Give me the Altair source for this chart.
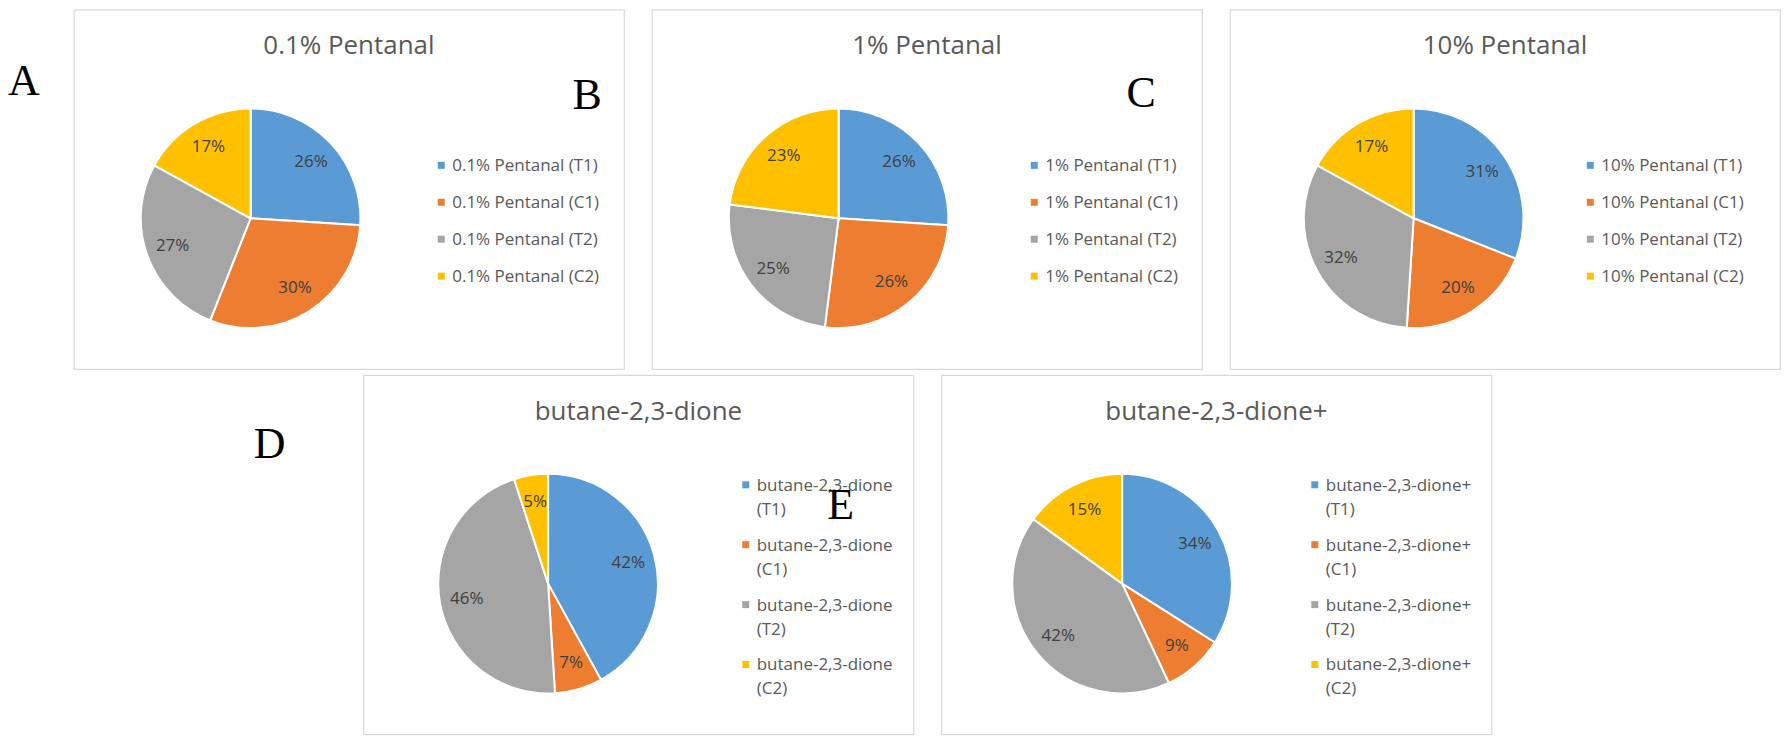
import altair as alt
import pandas as pd

# ---------------- data ----------------
panel_titles = ["0.1% Pentanal", "1% Pentanal", "10% Pentanal",
                "butane-2,3-dione", "butane-2,3-dione+"]
series_suffix = ["(T1)", "(C1)", "(T2)", "(C2)"]
values_a = [26, 30, 27, 17]
values_b = [26, 26, 25, 23]
values_c = [31, 20, 32, 17]
values_d = [42, 7, 46, 5]
values_e = [34, 9, 42, 15]
panel_letters = ["A", "B", "C", "D", "E"]
slice_colors = ["#5B9BD5", "#ED7D31", "#A5A5A5", "#FFC000"]

# ---------------- style / layout ----------------
FONT = "Open Sans"
LETTER_FONT = "Liberation Serif"
TXT = "#595959"
PANEL_W = 551
PANEL_H = 360
R = 110


def panel(title, values, lay, letter=None, letter_pos=None):
    names = [f"{title} {s}" for s in series_suffix]
    sep = "|" if lay["wrap"] else " "
    labels = [f"{title}{sep}{s}" for s in series_suffix]
    df = pd.DataFrame({
        "series": names,
        "value": values,
        "idx": list(range(len(values))),
        "pct": [f"{v}%" for v in values],
        "label": labels,
    })
    base = alt.Chart(df)
    color = alt.Color("series:N", scale=alt.Scale(domain=names, range=slice_colors), legend=None)
    theta = alt.Theta("value:Q", stack=True)
    order = alt.Order("idx:Q")
    cx, cy = lay["cx"], lay["cy"]

    arcs = base.mark_arc(outerRadius=R, stroke="white", strokeWidth=2).encode(
        theta=theta, order=order, color=color, x=alt.value(cx), y=alt.value(cy))
    pct = base.mark_text(radius=83, font=FONT, fontSize=17, color="#404040").encode(
        theta=theta, order=order, text="pct:N", x=alt.value(cx), y=alt.value(cy))

    ysc = alt.Y("series:N", sort=names, axis=None,
                scale=alt.Scale(range=[lay["y0"], lay["y3"]], padding=0))
    sq = base.mark_square(size=49, opacity=1).encode(
        x=alt.value(lay["sx"]), y=ysc, color=color)
    txt = base.mark_text(align="left", baseline="top", dy=-7, font=FONT, fontSize=17,
                         color=TXT, lineBreak="|", lineHeight=24).encode(
        x=alt.value(lay["sx"] + 11), y=ysc, text="label:N")

    ttl = alt.Chart(pd.DataFrame({"t": [title]})).mark_text(
        font=FONT, fontSize=26, color=TXT, align="center", baseline="alphabetic").encode(
        text="t:N", x=alt.value(PANEL_W / 2), y=alt.value(lay["ty"]))

    layers = [arcs, pct, sq, txt, ttl]
    if letter is not None:
        lt = alt.Chart(pd.DataFrame({"t": [letter]})).mark_text(
            font=LETTER_FONT, fontSize=44, color="black", align="center", baseline="middle").encode(
            text="t:N", x=alt.value(letter_pos[0]), y=alt.value(letter_pos[1]))
        layers.append(lt)
    return alt.layer(*layers).properties(width=PANEL_W, height=PANEL_H)


def spacer(letter, w, pos):
    return alt.Chart(pd.DataFrame({"t": [letter]})).mark_text(
        font=LETTER_FONT, fontSize=44, color="black", align="center", baseline="middle").encode(
        text="t:N", x=alt.value(pos[0]), y=alt.value(pos[1])).properties(
        width=w, height=PANEL_H, view=alt.ViewBackground(strokeOpacity=0))


top_rows = dict(y0=156, y3=267, wrap=False, ty=44)
bot_rows = dict(y0=110, y3=290, wrap=True, ty=45)

p1 = panel(panel_titles[0], values_a, dict(cx=177, cy=209, sx=368, **top_rows),
           panel_letters[1], (514, 87))
p2 = panel(panel_titles[1], values_b, dict(cx=187, cy=209, sx=383, **top_rows),
           panel_letters[2], (490, 85))
p3 = panel(panel_titles[2], values_c, dict(cx=184, cy=209, sx=361, **top_rows))
p4 = panel(panel_titles[3], values_d, dict(cx=185, cy=209, sx=383, **bot_rows),
           panel_letters[4], (478, 131))
p5 = panel(panel_titles[4], values_e, dict(cx=181, cy=209, sx=374, **bot_rows))

res = dict(color="independent", theta="independent", y="independent")
row1 = alt.hconcat(spacer(panel_letters[0], 37, (14, 73)), p1, p2, p3, spacing=26).resolve_scale(**res)
row2 = alt.hconcat(spacer(panel_letters[3], 327, (260, 70)), p4, p5, spacing=26).resolve_scale(**res)

chart = alt.vconcat(row1, row2, spacing=4).resolve_scale(**res).properties(
    padding=0, background="white"
).configure_view(stroke="#D9D9D9", strokeWidth=1.2)

chart.save("out.html", embed_options={"renderer": "svg", "actions": False})
